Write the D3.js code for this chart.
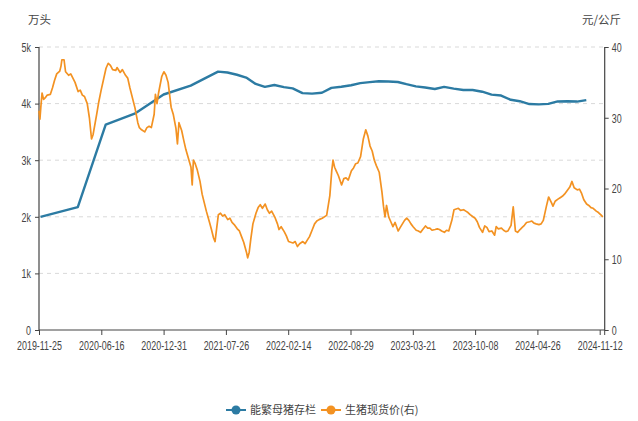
<!DOCTYPE html>
<html><head><meta charset="utf-8">
<script src="https://cdn.jsdelivr.net/npm/d3@7/dist/d3.min.js"></script>
<style>
html,body{margin:0;padding:0;background:#fff;}
svg text{font-family:"Liberation Sans","Noto Sans CJK SC",sans-serif;}
.cjk{font-family:"Noto Sans CJK SC",sans-serif !important;}
</style></head>
<body>
<svg id="c" width="638" height="421"></svg>
<script>
// ---- data ----
const tickLabels = ["2019-11-25","2020-06-16","2020-12-31","2021-07-26","2022-02-14","2022-08-29","2023-03-21","2023-10-08","2024-04-26","2024-11-12"];
const axisEndDate = "2024-11-28";
const leftTicks = [0,1000,2000,3000,4000,5000];
const leftTickLabels = ["0","1k","2k","3k","4k","5k"];
const rightTicks = [0,10,20,30,40];
const seriesNames = ["能繁母猪存栏","生猪现货价(右)"];

const sowDates = ["2019-11-30","2020-03-31","2020-06-30","2020-09-30","2020-12-31","2021-03-31","2021-06-30","2021-07-31","2021-08-31","2021-09-30","2021-10-31","2021-11-30","2021-12-31","2022-01-31","2022-02-28","2022-03-31","2022-04-30","2022-05-31","2022-06-30","2022-07-31","2022-08-31","2022-09-30","2022-10-31","2022-11-30","2022-12-31","2023-01-31","2023-02-28","2023-03-31","2023-04-30","2023-05-31","2023-06-30","2023-07-31","2023-08-31","2023-09-30","2023-10-31","2023-11-30","2023-12-31","2024-01-31","2024-02-29","2024-03-31","2024-04-30","2024-05-31","2024-06-30","2024-07-31","2024-08-31","2024-09-30"];
const sowValues = [2000,2170,3629,3822,4161,4318,4564,4550,4510,4459,4348,4296,4329,4290,4268,4185,4177,4192,4277,4298,4324,4362,4379,4394,4390,4381,4343,4305,4284,4258,4296,4265,4241,4240,4210,4158,4142,4067,4042,3992,3986,3996,4038,4042,4036,4062];

const price = [["2019-11-25",31.0],["2019-11-28",29.8],["2019-12-01",31.5],["2019-12-05",33.5],["2019-12-10",32.6],["2019-12-15",32.8],["2019-12-22",33.2],["2020-01-01",33.3],["2020-01-08",34.2],["2020-01-15",35.3],["2020-01-22",36.2],["2020-02-01",36.6],["2020-02-05",37.3],["2020-02-08",38.2],["2020-02-15",38.2],["2020-02-20",36.5],["2020-03-01",36.0],["2020-03-08",36.2],["2020-03-15",35.6],["2020-03-22",35.0],["2020-04-01",33.7],["2020-04-08",33.9],["2020-04-15",33.2],["2020-04-22",33.0],["2020-05-01",32.0],["2020-05-08",30.0],["2020-05-15",27.0],["2020-05-20",27.6],["2020-06-01",30.5],["2020-06-08",32.3],["2020-06-15",33.8],["2020-07-01",37.0],["2020-07-08",37.7],["2020-07-15",37.4],["2020-07-22",36.8],["2020-08-01",36.7],["2020-08-05",37.1],["2020-08-15",36.4],["2020-08-22",36.8],["2020-09-01",36.0],["2020-09-08",35.6],["2020-09-15",34.2],["2020-10-01",31.4],["2020-10-10",29.3],["2020-10-15",28.6],["2020-10-22",28.3],["2020-11-01",28.0],["2020-11-08",28.6],["2020-11-15",28.8],["2020-11-22",28.6],["2020-12-01",30.5],["2020-12-05",33.3],["2020-12-10",32.0],["2020-12-15",33.5],["2020-12-25",35.8],["2021-01-01",36.5],["2021-01-08",36.0],["2021-01-15",35.0],["2021-01-25",31.5],["2021-02-01",30.5],["2021-02-10",28.5],["2021-02-15",26.3],["2021-02-20",29.3],["2021-03-01",28.2],["2021-03-08",26.8],["2021-03-15",25.5],["2021-04-01",23.0],["2021-04-05",20.5],["2021-04-09",24.0],["2021-04-15",23.5],["2021-04-22",22.6],["2021-05-01",21.0],["2021-05-08",19.2],["2021-05-15",18.0],["2021-05-22",16.8],["2021-06-01",15.3],["2021-06-08",14.2],["2021-06-15",13.0],["2021-06-20",12.5],["2021-06-26",14.6],["2021-07-01",16.3],["2021-07-08",16.5],["2021-07-15",16.1],["2021-07-22",16.3],["2021-08-01",15.6],["2021-08-08",15.8],["2021-08-15",15.2],["2021-08-22",14.9],["2021-09-01",14.3],["2021-09-08",14.0],["2021-09-15",13.2],["2021-09-22",12.4],["2021-10-01",11.0],["2021-10-05",10.2],["2021-10-10",11.0],["2021-10-15",12.8],["2021-10-22",15.0],["2021-11-01",16.5],["2021-11-08",17.3],["2021-11-15",17.7],["2021-11-22",17.2],["2021-12-01",17.8],["2021-12-08",17.0],["2021-12-15",16.5],["2021-12-22",16.8],["2022-01-01",16.0],["2022-01-10",15.0],["2022-01-15",14.2],["2022-01-22",14.6],["2022-02-01",13.9],["2022-02-08",13.3],["2022-02-15",12.5],["2022-03-01",12.3],["2022-03-08",12.5],["2022-03-15",11.8],["2022-03-22",12.2],["2022-04-01",12.5],["2022-04-08",12.2],["2022-04-15",12.7],["2022-04-22",13.2],["2022-05-01",14.2],["2022-05-08",15.0],["2022-05-15",15.4],["2022-05-22",15.6],["2022-06-01",15.8],["2022-06-15",16.2],["2022-06-25",19.0],["2022-07-01",22.5],["2022-07-05",24.0],["2022-07-10",23.0],["2022-07-15",22.5],["2022-07-22",21.8],["2022-08-01",20.5],["2022-08-08",21.4],["2022-08-15",21.5],["2022-08-22",21.2],["2022-09-01",22.5],["2022-09-08",22.9],["2022-09-15",23.5],["2022-09-22",23.6],["2022-10-01",24.5],["2022-10-10",27.0],["2022-10-18",28.3],["2022-10-25",27.4],["2022-11-01",26.0],["2022-11-08",25.3],["2022-11-15",24.0],["2022-11-22",23.2],["2022-12-01",22.3],["2022-12-10",19.5],["2022-12-15",17.5],["2022-12-20",16.0],["2022-12-25",17.6],["2023-01-01",16.0],["2023-01-08",15.3],["2023-01-15",14.6],["2023-01-22",15.2],["2023-02-01",14.0],["2023-02-08",14.5],["2023-02-15",15.0],["2023-02-22",15.5],["2023-03-01",15.8],["2023-03-08",15.5],["2023-03-15",15.0],["2023-03-22",14.6],["2023-04-01",14.1],["2023-04-08",14.0],["2023-04-15",13.8],["2023-04-22",14.2],["2023-05-01",14.7],["2023-05-08",14.4],["2023-05-15",14.4],["2023-05-22",14.1],["2023-06-01",14.2],["2023-06-08",14.3],["2023-06-15",14.2],["2023-06-22",14.0],["2023-07-01",13.8],["2023-07-08",14.1],["2023-07-15",14.0],["2023-07-25",15.5],["2023-08-01",17.0],["2023-08-08",17.1],["2023-08-15",17.2],["2023-08-22",16.9],["2023-09-01",17.0],["2023-09-08",16.8],["2023-09-15",16.6],["2023-09-22",16.3],["2023-10-01",16.0],["2023-10-08",15.8],["2023-10-15",15.3],["2023-10-22",14.5],["2023-11-01",13.8],["2023-11-08",14.7],["2023-11-15",14.5],["2023-11-22",13.9],["2023-12-01",14.0],["2023-12-10",13.4],["2023-12-15",14.6],["2023-12-22",14.3],["2024-01-01",14.4],["2024-01-08",14.1],["2024-01-15",13.9],["2024-01-22",14.0],["2024-02-01",14.8],["2024-02-08",17.4],["2024-02-15",14.0],["2024-02-22",13.8],["2024-03-01",14.2],["2024-03-08",14.5],["2024-03-15",14.8],["2024-03-22",15.2],["2024-04-01",15.3],["2024-04-08",15.4],["2024-04-15",15.1],["2024-04-22",15.0],["2024-05-01",14.9],["2024-05-08",15.0],["2024-05-15",15.5],["2024-05-25",17.5],["2024-06-01",18.8],["2024-06-10",18.0],["2024-06-15",17.5],["2024-06-22",18.2],["2024-07-01",18.5],["2024-07-08",18.7],["2024-07-15",18.9],["2024-07-22",19.2],["2024-08-01",19.8],["2024-08-08",20.2],["2024-08-15",21.0],["2024-08-22",20.1],["2024-09-01",19.8],["2024-09-08",19.9],["2024-09-15",19.3],["2024-09-22",18.4],["2024-10-01",17.8],["2024-10-08",17.6],["2024-10-15",17.3],["2024-10-22",17.2],["2024-11-01",16.8],["2024-11-08",16.6],["2024-11-15",16.3],["2024-11-22",16.0]];

// ---- layout ----
const W = 638, H = 421;
const L = 39, T = 47, B = 330, step = 62.3;
const R = L + step*(tickLabels.length-1) + 5;
const blue = "#2c7ba3", orange = "#f39222";
const SQ = 0.66; // horizontal squeeze of numeric labels
const parse = d3.timeParse("%Y-%m-%d");
const svg = d3.select("#c");

const tickDates = tickLabels.map(parse);
const xDomain = tickDates.concat([parse(axisEndDate)]);
const xRange = tickLabels.map((d,i)=>L+i*step).concat([R]);
const x = d3.scaleTime().domain(xDomain).range(xRange);
const yL = d3.scaleLinear().domain([0,5000]).range([B,T]);
const yR = d3.scaleLinear().domain([0,40]).range([B,T]);

// grid
svg.append("g").selectAll("line").data(leftTicks.slice(1)).join("line")
  .attr("x1",L).attr("x2",R).attr("y1",d=>yL(d)).attr("y2",d=>yL(d))
  .attr("stroke","#d9d9d9").attr("stroke-dasharray","4,4").attr("stroke-width",1);

const gl = svg.append("g").attr("transform",`translate(${L},0)`)
  .call(d3.axisLeft(yL).tickValues(leftTicks).tickFormat((d,i)=>leftTickLabels[i]).tickSize(4).tickPadding(4));
const gr = svg.append("g").attr("transform",`translate(${R},0)`)
  .call(d3.axisRight(yR).tickValues(rightTicks).tickSize(4).tickPadding(3));
const gb = svg.append("g").attr("transform",`translate(0,${B})`)
  .call(d3.axisBottom(x).tickValues(tickDates).tickFormat((d,i)=>tickLabels[i]).tickSize(5).tickPadding(5));
svg.append("line").attr("x1",R).attr("x2",R).attr("y1",B).attr("y2",B+5).attr("stroke","#444");
[gl,gr,gb].forEach(g=>{
  g.select(".domain").attr("stroke","#444").attr("stroke-width",1.2);
  g.selectAll(".tick line").attr("stroke","#444");
  g.selectAll("text").attr("fill","#444").attr("font-size",13.5);
  g.selectAll(".tick text").each(function(){
    const t = d3.select(this);
    const x0 = +t.attr("x") || 0;
    t.attr("x", x0/SQ).attr("transform",`scale(${SQ},1)`);
  });
});
gb.selectAll(".domain").attr("d",`M${L},0H${R}`);
gl.select(".domain").attr("d",`M0,${T}V${B}`);
gr.select(".domain").attr("d",`M0,${T}V${B}`);

// axis titles
svg.append("text").attr("class","cjk").attr("x",28).attr("y",24).attr("font-size",11.5).attr("fill","#444").text("万头");
svg.append("text").attr("class","cjk").attr("x",621).attr("y",24).attr("text-anchor","end").attr("font-size",11.5).attr("fill","#444").text("元/公斤");

// lines
const sow = sowDates.map((d,i)=>({d:parse(d),v:sowValues[i]}));
svg.append("path").datum(sow)
  .attr("fill","none").attr("stroke",blue).attr("stroke-width",2.4).attr("stroke-linejoin","round")
  .attr("d",d3.line().x(p=>x(p.d)).y(p=>yL(p.v)));
const pr = price.map(p=>({d:parse(p[0]),v:p[1]}));
svg.append("path").datum(pr)
  .attr("fill","none").attr("stroke",orange).attr("stroke-width",1.7).attr("stroke-linejoin","round")
  .attr("d",d3.line().x(p=>x(p.d)).y(p=>yR(p.v)));

// legend
const lg = svg.append("g");
const items = [{n:seriesNames[0],c:blue,x:226},{n:seriesNames[1],c:orange,x:321}];
items.forEach(it=>{
  const g = lg.append("g").attr("transform",`translate(${it.x},410)`);
  g.append("line").attr("x1",0).attr("x2",20).attr("stroke",it.c).attr("stroke-width",2);
  g.append("circle").attr("cx",10).attr("r",4.5).attr("fill",it.c);
  g.append("text").attr("class","cjk").attr("x",24).attr("y",4).attr("font-size",11).attr("fill","#444").text(it.n);
});
</script>
</body></html>
